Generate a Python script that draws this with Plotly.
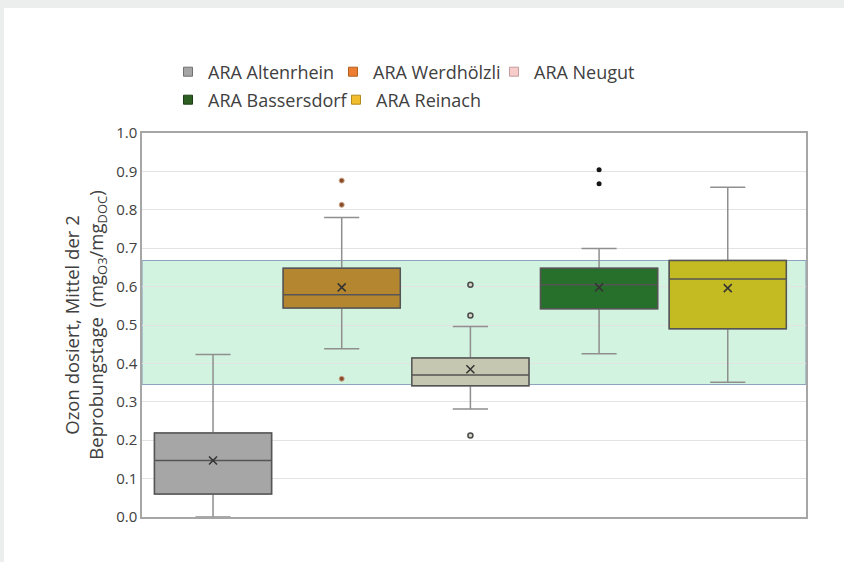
import plotly.graph_objects as go

# Ozone dose per treatment plant (mean of the 2 sampling days), box statistics
stations = ["ARA Altenrhein", "ARA Werdhölzli", "ARA Neugut", "ARA Bassersdorf", "ARA Reinach"]
q1 = [0.060, 0.544, 0.342, 0.542, 0.490]
median = [0.147, 0.579, 0.370, 0.605, 0.620]
q3 = [0.219, 0.648, 0.414, 0.648, 0.668]
lower_whisker = [0.000, 0.438, 0.281, 0.425, 0.351]
upper_whisker = [0.423, 0.780, 0.496, 0.699, 0.859]
mean = [0.147, 0.598, 0.385, 0.598, 0.596]
outliers = [[], [0.876, 0.813, 0.360], [0.605, 0.525, 0.2125], [0.904, 0.868], []]

# Target dosing range (shaded band)
target_low = 0.345
target_high = 0.668

y_ticks = [0.0, 0.1, 0.2, 0.3, 0.4, 0.5, 0.6, 0.7, 0.8, 0.9, 1.0]

box_fill = ["#a6a6a6", "#b3862f", "#c6c7b0", "#27702b", "#c4ba22"]
legend_fill = ["#a5a5a5", "#ed7d31", "#f9cccc", "#2d5f21", "#f2bd2c"]
legend_edge = ["#707070", "#b0601f", "#c29c9c", "#1e3f15", "#b08a20"]
outlier_style = [
    None,
    dict(symbol="circle", size=5, color="#8a4b2a", line=dict(color="#c9a58a", width=1)),
    dict(symbol="circle", size=5, color="#d6d6c8", line=dict(color="#4a4a4a", width=1.5)),
    dict(symbol="circle", size=5, color="#151515", line=dict(color="#151515", width=0)),
    None,
]

FONT = "Open Sans, Segoe UI, sans-serif"
TEXT = "#404040"
BOX_W = 0.91

W, H = 844, 562
M = dict(l=142, r=38, t=133, b=45)

fig = go.Figure()

for i, name in enumerate(stations):
    # whiskers and caps (light grey)
    fig.add_trace(go.Box(
        x=[i], q1=[q1[i]], median=[median[i]], q3=[q3[i]],
        lowerfence=[lower_whisker[i]], upperfence=[upper_whisker[i]],
        width=BOX_W, whiskerwidth=0.3, boxpoints=False,
        fillcolor=box_fill[i], line=dict(color="#8f8f8f", width=1.5),
        showlegend=False, hoverinfo="skip",
    ))
    # box body with darker outline and median
    fig.add_trace(go.Box(
        x=[i], q1=[q1[i]], median=[median[i]], q3=[q3[i]],
        lowerfence=[q1[i]], upperfence=[q3[i]],
        width=BOX_W, whiskerwidth=0, boxpoints=False,
        fillcolor=box_fill[i], line=dict(color="#555555", width=1.5),
        name=name, showlegend=False,
    ))
    # mean marker
    fig.add_trace(go.Scatter(
        x=[i], y=[mean[i]], mode="markers",
        marker=dict(symbol="x-thin", size=8, line=dict(color="#333333", width=1.5)),
        showlegend=False, hoverinfo="y",
    ))
    # outliers
    if outliers[i]:
        fig.add_trace(go.Scatter(
            x=[i] * len(outliers[i]), y=outliers[i], mode="markers",
            marker=outlier_style[i], showlegend=False, hoverinfo="y",
        ))

# legend entries: two rows of items, each item in its own legend box
pw = W - M["l"] - M["r"]
ph = H - M["t"] - M["b"]
def px_x(px):
    return (px - M["l"]) / pw
def px_y(py):
    return (H - M["b"] - py) / ph

legend_ids = ["legend", "legend2", "legend3", "legend4", "legend5"]
legend_pos = [(168, 72), (333, 72), (494, 72), (168, 100), (336, 100)]

for i, name in enumerate(stations):
    fig.add_trace(go.Scatter(
        x=[None], y=[None], mode="markers", name=name,
        marker=dict(symbol="square", size=9, color=legend_fill[i],
                    line=dict(color=legend_edge[i], width=1)),
        legend=legend_ids[i],
    ))

legend_common = dict(
    orientation="h", xanchor="left", yanchor="middle",
    font=dict(family=FONT, size=18, color=TEXT),
    bgcolor="rgba(0,0,0,0)", itemclick=False, itemdoubleclick=False,
)
legend_layout = {
    lid: dict(x=px_x(lx), y=px_y(ly), **legend_common)
    for lid, (lx, ly) in zip(legend_ids, legend_pos)
}

# shaded target band
fig.add_shape(type="rect", xref="x domain", yref="y", x0=0, x1=1,
              y0=target_low, y1=target_high, layer="below",
              fillcolor="#d3f3e1", line=dict(color="#8ea3bf", width=1.2))

# light grey page edge (top and left)
edge = "#eceeed"
fig.add_shape(type="rect", xref="paper", yref="paper", x0=px_x(0), x1=px_x(W),
              y0=px_y(8), y1=px_y(0), fillcolor=edge, line_width=0, layer="above")
fig.add_shape(type="rect", xref="paper", yref="paper", x0=px_x(0), x1=px_x(4),
              y0=px_y(H), y1=px_y(0), fillcolor=edge, line_width=0, layer="above")

fig.update_layout(
    width=W, height=H, margin=M,
    paper_bgcolor="white", plot_bgcolor="white",
    boxmode="overlay",
    font=dict(family=FONT, color=TEXT),
    **legend_layout,
    xaxis=dict(range=[-0.552, 4.608], showticklabels=False, ticks="",
               showgrid=False, zeroline=False,
               showline=True, mirror=True, linecolor="#a6a6a6", linewidth=1.5),
    yaxis=dict(range=[0, 1.0], tickvals=y_ticks, tickformat=".1f",
               showgrid=True, gridcolor="#e3e3e3", gridwidth=1, zeroline=False,
               showline=True, mirror=True, linecolor="#a6a6a6", linewidth=1.5,
               ticks="", tickfont=dict(family=FONT, size=15, color=TEXT),
               title=dict(text="Ozon dosiert, Mittel der 2<br>Beprobungstage  (mg<sub>O3</sub>/mg<sub>DOC</sub>)",
                          standoff=8,
                          font=dict(family=FONT, size=18.5, color=TEXT))),
)

fig.write_html("out.html")
